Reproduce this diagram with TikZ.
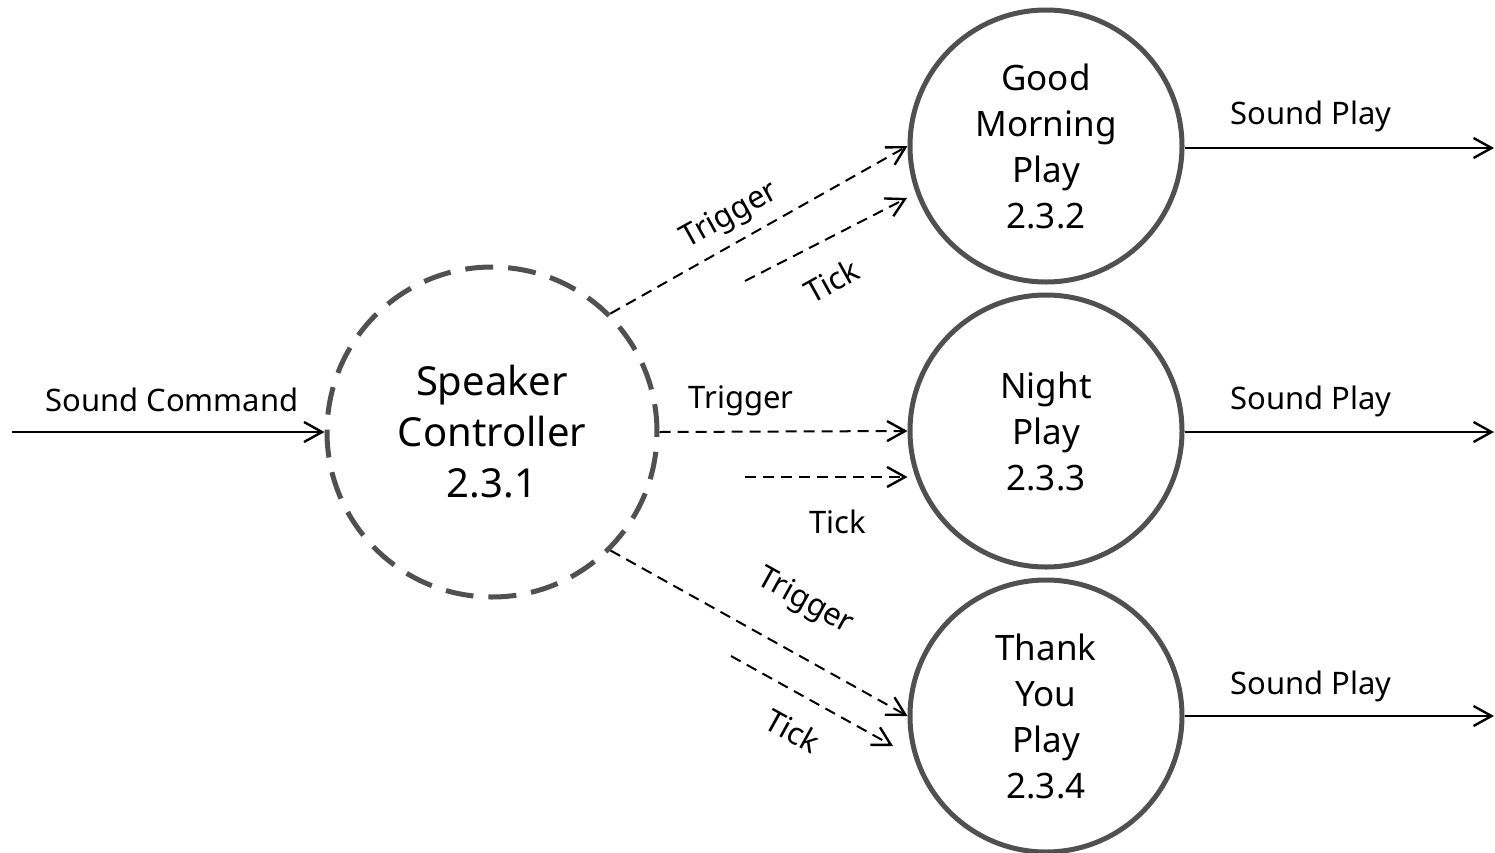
\documentclass[tikz,border=0pt]{standalone}
\usepackage{fontspec}
\setmainfont{Noto Sans}
\usetikzlibrary{arrows.meta}
\definecolor{cgray}{HTML}{505050}
\begin{document}
\begin{tikzpicture}[x=0.5pt,y=-0.5pt,
 proc/.style={circle,draw=cgray,line width=2.5pt,minimum size=136pt,inner sep=0pt,align=center,font=\fontsize{17.5}{23}\selectfont},
 ctrl/.style={proc,dash pattern=on 14pt off 7.5pt,minimum size=165pt,font=\fontsize{20}{25.5}\selectfont},
 flow/.style={line width=1pt,-{Straight Barb[length=9pt,width=10pt,line width=1.2pt]}},
 dflow/.style={flow,dash pattern=on 5.5pt off 3.5pt},
 lbl/.style={font=\fontsize{15.5}{18}\selectfont,inner sep=0pt}]
\useasboundingbox (0,0) rectangle (1495,852);
\node[ctrl] (sc) at (492,432) {Speaker\\Controller\\2.3.1};
\node[proc] (gm) at (1046,146) {Good\\Morning\\Play\\2.3.2};
\node[proc] (np) at (1046,431) {Night\\Play\\2.3.3};
\node[proc] (ty) at (1046,716) {Thank\\You\\Play\\2.3.4};
\coordinate (in) at (12,432);
\coordinate (o1) at (1494,148);
\coordinate (o2) at (1494,432);
\coordinate (o3) at (1494,716);
\coordinate (t1s) at (745,281);
\coordinate (t1e) at (907,198);
\coordinate (t2s) at (745,477);
\coordinate (t3s) at (731,656);
\coordinate (t3e) at (893,746);
\draw[flow] (in) -- (sc.west);
\draw[flow] (gm.east |- o1) -- (o1);
\draw[flow] (np.east |- o2) -- (o2);
\draw[flow] (ty.east) -- (o3);
\draw[dflow] (sc.45) -- (gm.west);
\draw[dflow] (sc.east) -- (np.west);
\draw[dflow] (sc.-45) -- (ty.west);
\draw[dflow] (t1s) -- (t1e);
\draw[dflow] (t2s) -- (t2s -| np.west);
\draw[dflow] (t3s) -- (t3e);
\node[lbl] (lsc) at (172,400) {Sound Command};
\node[lbl] (ls1) at (1311,116) {Sound Play};
\node[lbl] (ls2) at (1311,401) {Sound Play};
\node[lbl] (ls3) at (1311,686) {Sound Play};
\node[lbl,rotate=29] (ltr1) at (730,216) {Trigger};
\node[lbl,rotate=29] (ltk1) at (832,281) {Tick};
\node[lbl] (ltr2) at (741,401) {Trigger};
\node[lbl] (ltk2) at (838,522) {Tick};
\node[lbl,rotate=-29] (ltr3) at (805,602) {Trigger};
\node[lbl,rotate=-29] (ltk3) at (793,731) {Tick};
\end{tikzpicture}
\end{document}
